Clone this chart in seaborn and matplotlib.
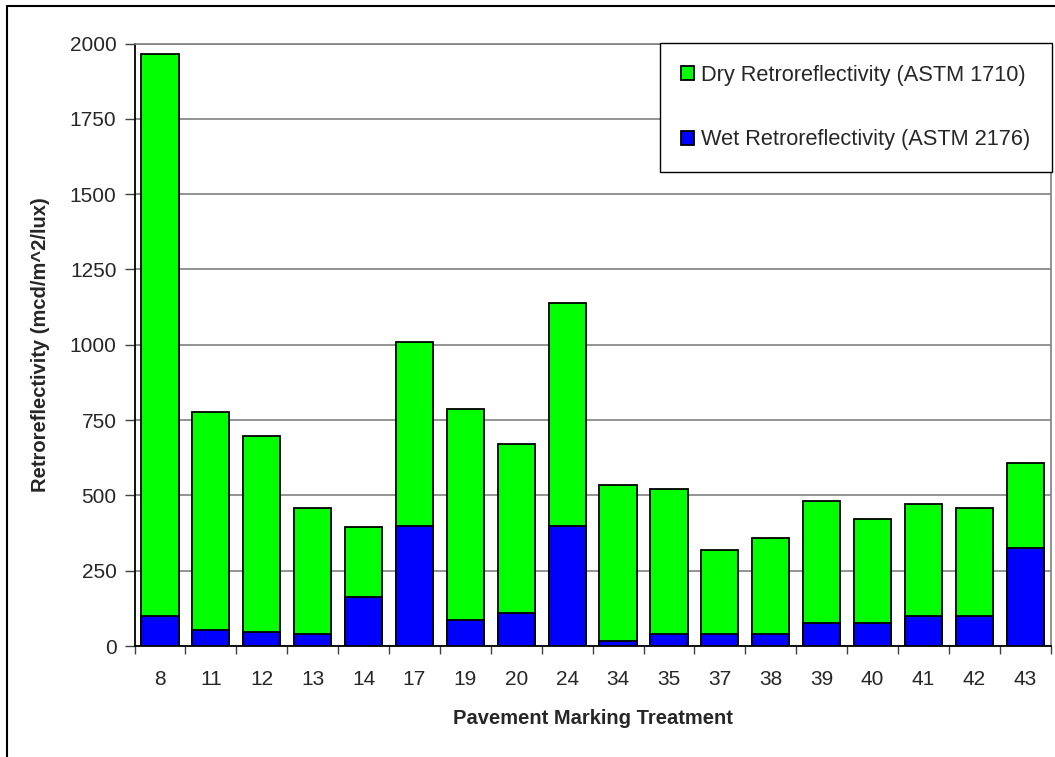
import numpy as np
import pandas as pd
import seaborn as sns
import matplotlib.pyplot as plt
from matplotlib.patches import Rectangle

# Data
treatments = ['8', '11', '12', '13', '14', '17', '19', '20', '24',
              '34', '35', '37', '38', '39', '40', '41', '42', '43']
dry = [1965, 778, 696, 457, 394, 1009, 788, 672, 1140,
       533, 521, 319, 360, 480, 423, 470, 457, 608]
wet = [100, 53, 47, 41, 163, 400, 87, 110, 400,
       18, 41, 41, 41, 75, 75, 100, 100, 324]

df = pd.DataFrame({'Treatment': treatments, 'Dry': dry, 'Wet': wet})

sns.set_style('white')
plt.rcParams['font.family'] = ['Liberation Sans', 'DejaVu Sans']

fig = plt.figure(figsize=(10.55, 7.57), dpi=100)
ax = fig.add_axes([134.5 / 1055, 1 - 646 / 757, (1050.7 - 134.5) / 1055, (646 - 43.5) / 757])

# green bar full height, blue wet bar overlapping from zero
sns.barplot(data=df, x='Treatment', y='Dry', order=treatments, color='#00FF00',
            saturation=1, width=0.73, edgecolor='black', linewidth=1.3, ax=ax,
            label='Dry Retroreflectivity (ASTM 1710)', zorder=3)
sns.barplot(data=df, x='Treatment', y='Wet', order=treatments, color='#0000FF',
            saturation=1, width=0.73, edgecolor='black', linewidth=1.3, ax=ax,
            label='Wet Retroreflectivity (ASTM 2176)', zorder=3)

ax.set_ylim(0, 2000)
ax.set_xlim(-0.5, len(treatments) - 0.5)
ax.set_yticks(np.arange(0, 2001, 250))
ax.yaxis.grid(True, color='#808080', linewidth=1.2, zorder=0)
ax.set_axisbelow(True)

ax.set_xticks(np.arange(-0.5, len(treatments), 1.0), minor=True)
ax.tick_params(axis='x', which='major', length=0, pad=17, labelsize=15)
ax.tick_params(axis='x', which='minor', length=6, width=1, color='#404040', direction='out')
ax.tick_params(axis='y', length=7, width=1, color='#404040', direction='out', labelsize=15, pad=6)
ax.tick_params(left=True, bottom=True, which='both')

for s in ['left', 'bottom']:
    ax.spines[s].set_color('black')
    ax.spines[s].set_linewidth(1.3)
for s in ['top', 'right']:
    ax.spines[s].set_color('#808080')
    ax.spines[s].set_linewidth(1.2)

ax.set_xlabel('Pavement Marking Treatment', fontsize=14.5, fontweight='bold', labelpad=15)
ax.set_ylabel('Retroreflectivity (mcd/m^2/lux)', fontsize=14.5, fontweight='bold', labelpad=14)

ax.legend(loc='upper right', bbox_to_anchor=(1052 / 1055, 1 - 43 / 757),
          bbox_transform=fig.transFigure, borderaxespad=0, fontsize=15.7,
          frameon=True, fancybox=False, framealpha=1, edgecolor='black',
          labelspacing=2.0, borderpad=1.0, handlelength=0.6, handleheight=0.6,
          handletextpad=0.3)
ax.get_legend().get_frame().set_linewidth(1.0)

# outer chart border (cropped on right and bottom)
fig.patches.append(Rectangle((7 / 1055, -0.05), 1.2, 1 - 6 / 757 + 0.05,
                             transform=fig.transFigure, fill=False,
                             edgecolor='black', linewidth=1.5))

fig.savefig('out.png', dpi=100)
